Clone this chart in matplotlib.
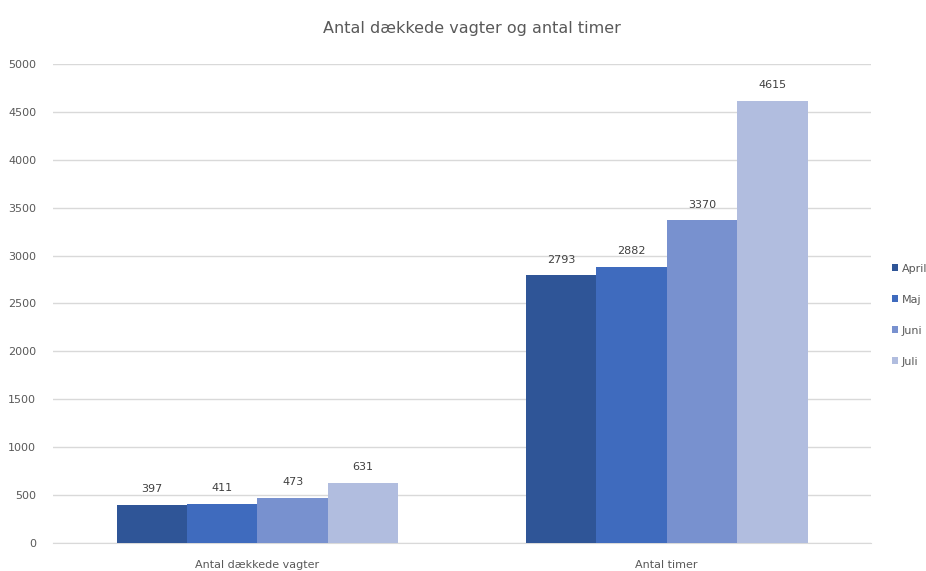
import matplotlib.pyplot as plt
import numpy as np

categories = ["Antal dækkede vagter", "Antal timer"]
months = ["April", "Maj", "Juni", "Juli"]
values = {
    "April": [397, 2793],
    "Maj": [411, 2882],
    "Juni": [473, 3370],
    "Juli": [631, 4615],
}
colors = ["#2F5597", "#3F6BBE", "#7891CF", "#B1BDDF"]

plt.rcParams['font.family'] = ['DejaVu Sans']

fig = plt.figure(figsize=(9.26, 5.71), dpi=100)
ax = fig.add_axes([0.057, 0.049, 0.884, 0.839])

x = np.arange(len(categories))
width = 0.172
for i, m in enumerate(months):
    pos = x + (i - 1.5) * width
    bars = ax.bar(pos, values[m], width=width, color=colors[i], label=m, zorder=3)
    for b, v in zip(bars, values[m]):
        ax.text(b.get_x() + b.get_width() / 2, v + 110, str(v), ha="center", va="bottom",
                fontsize=8, color="#404040")

ax.set_xlim(-0.5, 1.5)
ax.set_ylim(0, 5000)
ax.set_yticks(range(0, 5001, 500))
ax.set_xticks(x)
ax.set_xticklabels(categories, fontsize=8, color="#595959")
ax.tick_params(axis="y", labelsize=8, labelcolor="#595959", length=0, pad=12)
ax.tick_params(axis="x", length=0, pad=12)
ax.grid(axis="y", color="#D9D9D9", linewidth=1, zorder=0)
for s in ["top", "right", "left"]:
    ax.spines[s].set_visible(False)
ax.spines["bottom"].set_color("#D9D9D9")

fig.text(0.51, 0.95, "Antal dækkede vagter og antal timer", ha="center", va="center",
         fontsize=11.5, color="#595959")

leg = fig.legend(loc="center left", bbox_to_anchor=(0.963, 0.448), frameon=False,
                 fontsize=8, handlelength=0.6, handleheight=0.6, handletextpad=0.3,
                 labelspacing=1.9, borderaxespad=0, borderpad=0)
for t in leg.get_texts():
    t.set_color("#595959")

fig.savefig("out.png", dpi=100)
